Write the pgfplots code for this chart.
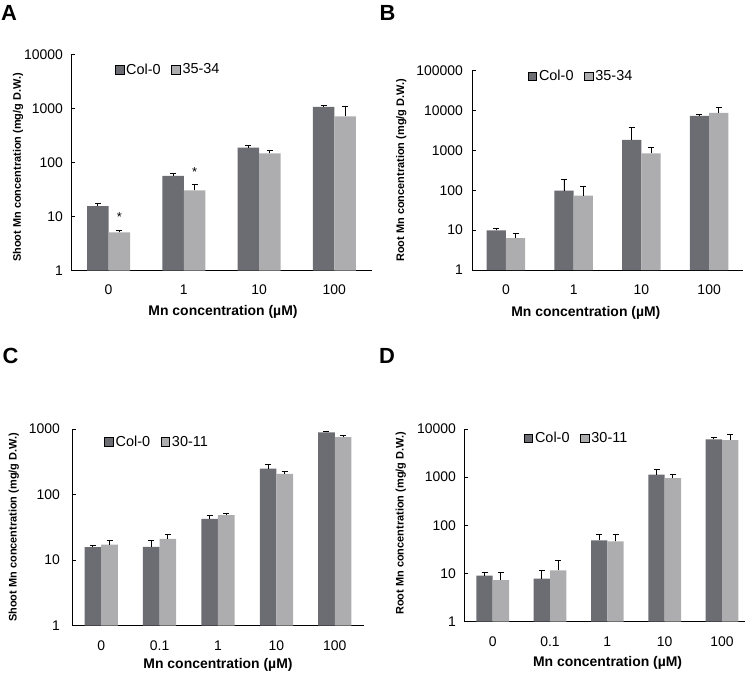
\documentclass[border=0pt]{standalone}
\usepackage{fontspec}
\setmainfont{Liberation Sans}
\usepackage{pgfplots}
\pgfplotsset{compat=1.18}
\definecolor{darkbar}{RGB}{108,109,114}
\definecolor{lightbar}{RGB}{173,173,175}

\newcommand{\tk}{\fontsize{14}{16}\selectfont}
\newcommand{\legtxt}[1]{\hspace{1.6bp}#1}

% shared look of the four panels
\pgfplotsset{
  axis line style={black, line width=0.9bp, -},
  xtick style={draw=none},
  ytick style={black, line width=0.8bp},
  major tick length=3.5bp,
  xticklabel style={font=\tk, anchor=center, yshift=-19.5bp},
  yticklabel style={font=\tk, anchor=east, inner sep=0pt},
  xlabel style={font=\bfseries\fontsize{14}{16}\selectfont, anchor=center},
  ylabel style={font=\bfseries\fontsize{11}{13}\selectfont, anchor=center},
  legend style={draw=none, fill=none, inner sep=0pt, anchor=west,
    font=\fontsize{14.5}{16}\selectfont, nodes={inner sep=0.6bp},
    /tikz/every even column/.append style={column sep=10bp}},
}
% bars are placed at group position -/+ 0.1425 so the error bars sit on them

\begin{document}
\begin{tikzpicture}
\useasboundingbox (0,0) rectangle (752bp,-675bp);

% ---------------- A: shoot, 35-34 ----------------
\begin{axis}[scale only axis, anchor=south west, at={(71bp,-270.5bp)},
  width=301bp, height=215.8bp, ymode=log, ymin=1, ymax=10000,
  xmin=-0.5, xmax=3.5, axis x line*=bottom, axis y line*=left,
  yminorticks=false, clip=false, legend columns=2,
  xtick={0,1,2,3}, xticklabels={0,1,10,100},
  ytick={1,10,100,1000,10000}, yticklabels={1,10,100,1000,10000},
  yticklabel style={xshift=-8bp},
  xlabel={Mn concentration (µM)}, ylabel={Shoot Mn concentration (mg/g D.W.)},
  xlabel style={at={(axis description cs:0.505,-0.191)}},
  ylabel style={at={(axis description cs:-0.176,0.477)}},
  legend style={at={(axis description cs:0.145,0.931)}}]
\addplot[ybar, bar width=0.285, bar shift=0pt, fill=darkbar, draw=none,
  area legend, legend image post style={xscale=0.51, yscale=1.53},
  error bars/.cd, y dir=plus, y explicit,
  error bar style={black, line width=0.9bp},
  error mark options={black, line width=0.9bp, mark size=3bp, rotate=90}]
  coordinates {(-0.1425,15.6) +- (0,1.8) (0.8575,56.5) +- (0,7.8) (1.8575,190) +- (0,20) (2.8575,1074) +- (0,96)};
\addplot[ybar, bar width=0.285, bar shift=0pt, fill=lightbar, draw=none,
  area legend, legend image post style={xscale=0.51, yscale=1.53},
  error bars/.cd, y dir=plus, y explicit,
  error bar style={black, line width=0.9bp},
  error mark options={black, line width=0.9bp, mark size=3bp, rotate=90}]
  coordinates {(0.1425,5.1) +- (0,0.5) (1.1425,30.6) +- (0,8.4) (2.1425,149) +- (0,20) (3.1425,721) +- (0,368)};
\legend{\legtxt{Col-0},\legtxt{35-34}}
\node[font=\fontsize{13}{13}\selectfont, yshift=-2.5bp] at (axis cs:0.1425,10.8) {*};
\node[font=\fontsize{13}{13}\selectfont, yshift=-2.5bp] at (axis cs:1.1425,74.8) {*};
\end{axis}

% ---------------- B: root, 35-34 ----------------
\begin{axis}[scale only axis, anchor=south west, at={(472bp,-270bp)},
  width=271bp, height=199.3bp, ymode=log, ymin=1, ymax=100000,
  xmin=-0.5, xmax=3.5, axis x line*=bottom, axis y line*=left,
  yminorticks=false, clip=false, legend columns=2,
  xtick={0,1,2,3}, xticklabels={0,1,10,100},
  ytick={1,10,100,1000,10000,100000}, yticklabels={1,10,100,1000,10000,100000},
  yticklabel style={xshift=-9bp},
  xlabel={Mn concentration (µM)}, ylabel={Root Mn concentration (mg/g D.W.)},
  xlabel style={at={(axis description cs:0.42,-0.217)}},
  ylabel style={at={(axis description cs:-0.261,0.5)}},
  legend style={at={(axis description cs:0.205,0.973)}}]
\addplot[ybar, bar width=0.285, bar shift=0pt, fill=darkbar, draw=none,
  area legend, legend image post style={xscale=0.51, yscale=1.53},
  error bars/.cd, y dir=plus, y explicit,
  error bar style={black, line width=0.9bp},
  error mark options={black, line width=0.9bp, mark size=3bp, rotate=90}]
  coordinates {(-0.1425,9.9) +- (0,0.9) (0.8575,98) +- (0,90) (1.8575,1848) +- (0,1910) (2.8575,7360) +- (0,740)};
\addplot[ybar, bar width=0.285, bar shift=0pt, fill=lightbar, draw=none,
  area legend, legend image post style={xscale=0.51, yscale=1.53},
  error bars/.cd, y dir=plus, y explicit,
  error bar style={black, line width=0.9bp},
  error mark options={black, line width=0.9bp, mark size=3bp, rotate=90}]
  coordinates {(0.1425,6.3) +- (0,2.1) (1.1425,73.6) +- (0,54.4) (2.1425,841) +- (0,371) (3.1425,8750) +- (0,3350)};
\legend{\legtxt{Col-0},\legtxt{35-34}}
\end{axis}

% ---------------- C: shoot, 30-11 ----------------
\begin{axis}[scale only axis, anchor=south west, at={(72bp,-625.7bp)},
  width=292bp, height=196.7bp, ymode=log, ymin=1, ymax=1000,
  xmin=-0.5, xmax=4.5, axis x line*=bottom, axis y line*=left,
  yminorticks=false, clip=false, legend columns=2,
  xtick={0,1,2,3,4}, xticklabels={0,0.1,1,10,100},
  ytick={1,10,100,1000}, yticklabels={1,10,100,1000},
  yticklabel style={xshift=-12bp},
  xlabel={Mn concentration (µM)}, ylabel={Shoot Mn concentration (mg/g D.W.)},
  xlabel style={at={(axis description cs:0.5,-0.2)}},
  ylabel style={at={(axis description cs:-0.199,0.5)}},
  legend style={at={(axis description cs:0.11,0.934)}}]
\addplot[ybar, bar width=0.285, bar shift=0pt, fill=darkbar, draw=none,
  area legend, legend image post style={xscale=0.51, yscale=1.53},
  error bars/.cd, y dir=plus, y explicit,
  error bar style={black, line width=0.9bp},
  error mark options={black, line width=0.9bp, mark size=3bp, rotate=90}]
  coordinates {(-0.1425,15.8) +- (0,0.8) (0.8575,16.0) +- (0,3.7) (1.8575,42.7) +- (0,5.3) (2.8575,249) +- (0,35) (3.8575,890) +- (0,43)};
\addplot[ybar, bar width=0.285, bar shift=0pt, fill=lightbar, draw=none,
  area legend, legend image post style={xscale=0.51, yscale=1.53},
  error bars/.cd, y dir=plus, y explicit,
  error bar style={black, line width=0.9bp},
  error mark options={black, line width=0.9bp, mark size=3bp, rotate=90}]
  coordinates {(0.1425,17.3) +- (0,2.4) (1.1425,21.1) +- (0,3.5) (2.1425,48.6) +- (0,2.9) (3.1425,207) +- (0,17) (4.1425,755) +- (0,45)};
\legend{\legtxt{Col-0},\legtxt{30-11}}
\end{axis}

% ---------------- D: root, 30-11 ----------------
\begin{axis}[scale only axis, anchor=south west, at={(464bp,-621.7bp)},
  width=281bp, height=192.7bp, ymode=log, ymin=1, ymax=10000,
  xmin=-0.5, xmax=4.4, axis x line*=bottom, axis y line*=left,
  yminorticks=false, clip=false, legend columns=2,
  xtick={0,1,2,3,4}, xticklabels={0,0.1,1,10,100},
  ytick={1,10,100,1000,10000}, yticklabels={1,10,100,1000,10000},
  yticklabel style={xshift=-8bp},
  xlabel={Mn concentration (µM)}, ylabel={Root Mn concentration (mg/g D.W.)},
  xlabel style={at={(axis description cs:0.511,-0.216)}},
  ylabel style={at={(axis description cs:-0.225,0.51)}},
  legend style={at={(axis description cs:0.212,0.952)}}]
\addplot[ybar, bar width=0.285, bar shift=0pt, fill=darkbar, draw=none,
  area legend, legend image post style={xscale=0.51, yscale=1.53},
  error bars/.cd, y dir=plus, y explicit,
  error bar style={black, line width=0.9bp},
  error mark options={black, line width=0.9bp, mark size=3bp, rotate=90}]
  coordinates {(-0.1425,9.1) +- (0,1.2) (0.8575,7.8) +- (0,3.6) (1.8575,48.8) +- (0,17.2) (2.8575,1136) +- (0,307) (3.8575,6100) +- (0,610)};
\addplot[ybar, bar width=0.285, bar shift=0pt, fill=lightbar, draw=none,
  area legend, legend image post style={xscale=0.51, yscale=1.53},
  error bars/.cd, y dir=plus, y explicit,
  error bar style={black, line width=0.9bp},
  error mark options={black, line width=0.9bp, mark size=3bp, rotate=90}]
  coordinates {(0.1425,7.3) +- (0,3.3) (1.1425,11.7) +- (0,7.2) (2.1425,46.6) +- (0,17.4) (3.1425,953) +- (0,200) (4.1425,5910) +- (0,1710)};
\legend{\legtxt{Col-0},\legtxt{30-11}}
\end{axis}

% panel letters
\node[anchor=base west, inner sep=0, font=\bfseries\fontsize{22}{22}\selectfont] at (1bp,-20bp) {A};
\node[anchor=base west, inner sep=0, font=\bfseries\fontsize{22}{22}\selectfont] at (379.5bp,-20bp) {B};
\node[anchor=base west, inner sep=0, font=\bfseries\fontsize{22}{22}\selectfont] at (2.5bp,-363.3bp) {C};
\node[anchor=base west, inner sep=0, font=\bfseries\fontsize{22}{22}\selectfont] at (379bp,-363.3bp) {D};
\end{tikzpicture}
\end{document}
